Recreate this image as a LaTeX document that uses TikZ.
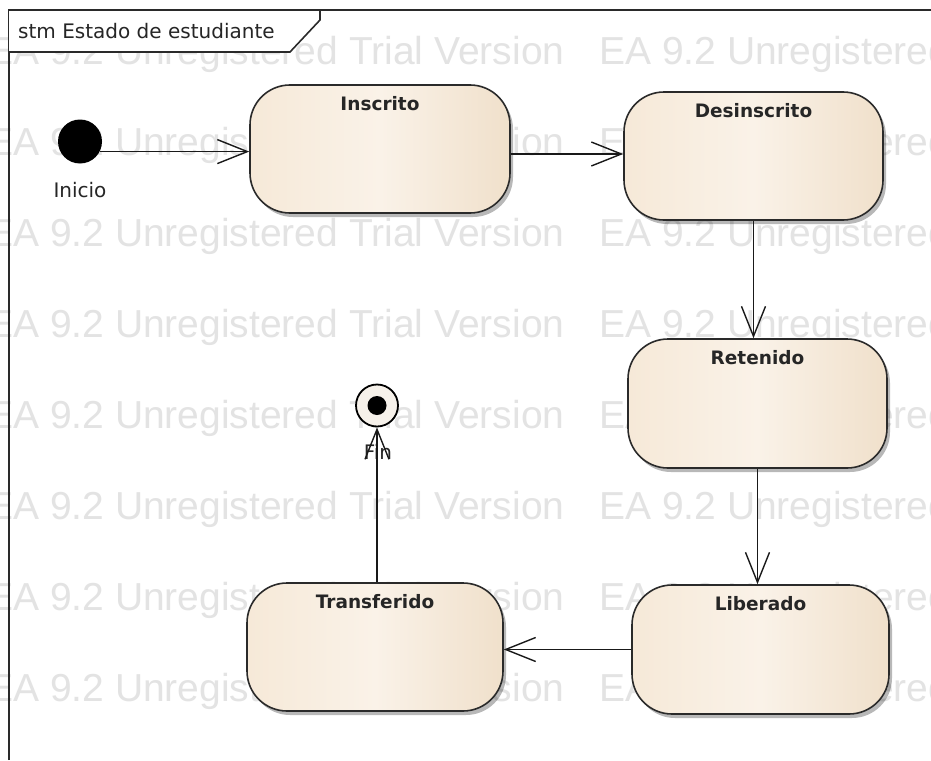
\documentclass[tikz,border=0pt]{standalone}
\usepackage{fontspec}
\setmainfont{DejaVu Sans}
\newfontfamily\wmfont{Liberation Sans}
\usetikzlibrary{arrows.meta,shadows,calc}

\definecolor{stateleft}{HTML}{F6E9D8}
\definecolor{statemid}{HTML}{FAF2E8}
\definecolor{stateright}{HTML}{F0E0CB}
\definecolor{edgeline}{HTML}{2A2A2A}
\definecolor{wmgray}{HTML}{E3E3E3}
\definecolor{ringfill}{HTML}{F6F1EA}

\begin{document}
\begin{tikzpicture}[x=1pt,y=-1pt,
  statebox/.style={draw=edgeline, line width=1.6pt, rounded corners=40pt,
    left color=stateleft, right color=stateright, middle color=statemid,
    drop shadow={shadow xshift=3pt, shadow yshift=-4pt, opacity=0.28, fill=black},
    inner sep=0pt},
  statename/.style={anchor=north, inner sep=0pt, yshift=-12pt,
    font=\fontsize{18.5}{20}\selectfont\bfseries, text=black!85},
  plaintext/.style={inner sep=0pt, font=\fontsize{20}{22}\selectfont, text=black!85},
  wm/.style={anchor=west, inner sep=0pt, text=wmgray,
    font=\wmfont\fontsize{39}{41}\selectfont},
  trans/.style={draw=black!90, line width=1.4pt,
    -{Straight Barb[length=30pt, width=24pt, line width=1.4pt]}},
  frameline/.style={draw=edgeline, line width=1.6pt}
]
% page area
\fill[white] (0,0) rectangle (931,760);
\useasboundingbox (0,0) rectangle (931,760);

% tool watermark rows
\foreach \yy in {54,145,236,327,418,509,600,691} {
  \node[wm] (wma\yy) at (-13,\yy) {EA 9.2 Unregistered Trial Version};
  \node[wm] (wmb\yy) at (599,\yy) {EA 9.2 Unregistered Trial Version};
}

% diagram frame with its name tab
\draw[frameline] (9,760) -- (9,10) -- (940,10);
\filldraw[frameline, fill=white] (9,10) -- (320,10) -- (320,20) -- (290,52) -- (9,52);
\node[plaintext, anchor=west] (title) at (18,31) {stm Estado de estudiante};

% pseudo-states
\node[circle, fill=black, minimum size=44pt, inner sep=0pt] (init) at (80,141.5) {};
\node[plaintext, anchor=north] (initlbl) at (80,182) {Inicio};

\node[plaintext, anchor=north] (finlbl) at (378,444) {Fin};
\node[circle, draw=black, line width=1.8pt, fill=ringfill, minimum size=42pt, inner sep=0pt] (fin) at (377,405.5) {};
\node[circle, fill=black, minimum size=19pt, inner sep=0pt] (fincore) at (fin) {};

% states
\node[statebox, minimum width=260pt, minimum height=128pt] (insc) at (380,149) {};
\node[statename] at (insc.north) {Inscrito};

\node[statebox, minimum width=259pt, minimum height=128pt] (desi) at (753.5,156) {};
\node[statename] at (desi.north) {Desinscrito};

\node[statebox, minimum width=259pt, minimum height=129pt] (rete) at (757.5,403.5) {};
\node[statename] at (rete.north) {Retenido};

\node[statebox, minimum width=257pt, minimum height=129pt] (libe) at (760.5,649.5) {};
\node[statename] at (libe.north) {Liberado};

\node[statebox, minimum width=256pt, minimum height=128pt] (tran) at (375,647) {};
\node[statename] at (tran.north) {Transferido};

% transitions
\draw[trans] (init.-27) -- (init.-27 -| insc.west);
\coordinate (a1) at ([yshift=-5pt]insc.east);
\draw[trans] (a1) -- (a1 -| desi.west);
\draw[trans] (desi.south) -- (desi.south |- rete.north);
\draw[trans] (rete.south) -- (rete.south |- libe.north);
\draw[trans] (libe.west) -- (libe.west -| tran.east);
\coordinate (a2) at (tran.north -| fin.south);
\draw[trans] (a2) -- (fin.south);
\end{tikzpicture}
\end{document}
